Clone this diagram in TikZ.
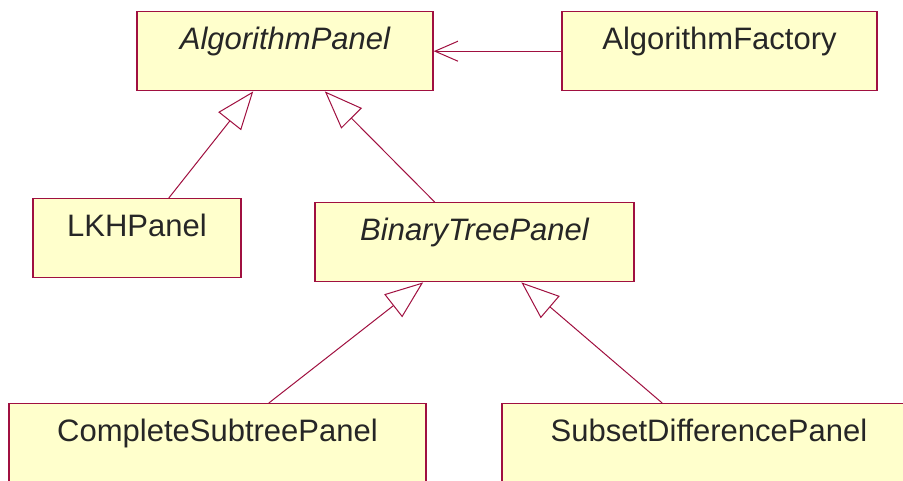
\documentclass[tikz,border=0pt]{standalone}
\usepackage{fontspec}
\setmainfont{Liberation Sans}
\usetikzlibrary{arrows.meta}
\definecolor{umlborder}{RGB}{160,16,64}
\definecolor{umlfill}{RGB}{255,255,204}
\begin{document}
\begin{tikzpicture}[x=1pt,y=-1pt,
  cls/.style={draw=umlborder, fill=umlfill, line width=1.4pt, rectangle,
    inner xsep=0pt, inner ysep=0pt, text height=38pt, text depth=41pt,
    anchor=north, text=black!85, font=\fontsize{31}{36}\selectfont},
  abstractcls/.style={cls, font=\fontsize{31}{36}\selectfont\itshape},
  inherit/.style={draw=umlborder, line width=1pt,
    -{Triangle[open, length=38pt, width=29pt]}},
  assoc/.style={draw=umlborder, line width=1pt,
    -{Straight Barb[length=23pt, width=20pt]}}]
\useasboundingbox (0,0) rectangle (903,480);
\fill[white] (0,0) rectangle (903,480);
\clip (0,0) rectangle (903,480);

\node[abstractcls, minimum width=296pt] (AP)  at (285,11)    {AlgorithmPanel};
\node[cls,         minimum width=315pt] (AF)  at (719.5,11)  {AlgorithmFactory};
\node[cls,         minimum width=208pt] (LKH) at (137,198)   {LKHPanel};
\node[abstractcls, minimum width=319pt] (BTP) at (474.5,202) {BinaryTreePanel};
\node[cls,         minimum width=417pt] (CSP) at (217.5,403) {CompleteSubtreePanel};
\node[cls,         minimum width=414pt] (SDP) at (709,403)   {SubsetDifferencePanel};

\draw[assoc]   (AF)  -- (AP);
\draw[inherit] (LKH) -- (AP);
\draw[inherit] (BTP) -- (AP);
\draw[inherit] (CSP) -- (BTP);
\draw[inherit] (SDP) -- (BTP);
\end{tikzpicture}
\end{document}
